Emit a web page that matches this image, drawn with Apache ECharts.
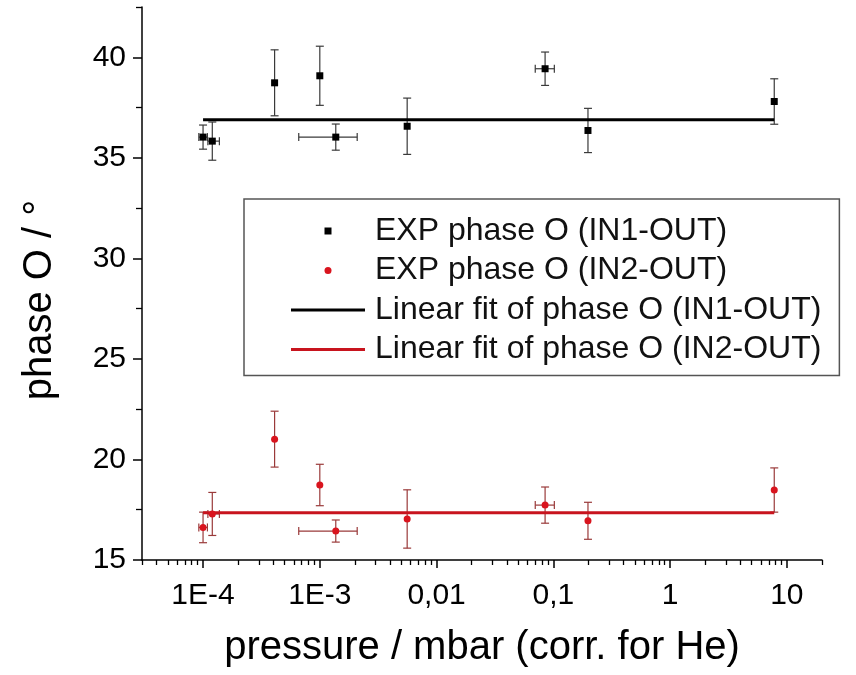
<!DOCTYPE html>
<html>
<head>
<meta charset="utf-8">
<script src="https://cdn.jsdelivr.net/npm/echarts@6/dist/echarts.min.js"></script>
<style>
html,body{margin:0;padding:0;background:#fff;}
#chart{width:856px;height:675px;}
</style>
</head>
<body>
<div id="chart"></div>
<script>
// ---- data ----
const pressure     = [1.0e-4, 1.2e-4, 4.1e-4, 1.0e-3, 1.37e-3, 5.6e-3, 0.085, 0.198, 7.8];
const pressureLow  = [9.2e-5, 1.1e-4, 4.1e-4, 1.0e-3, 6.6e-4, 5.6e-3, 0.070, 0.198, 7.8];
const pressureHigh = [1.09e-4, 1.38e-4, 4.1e-4, 1.0e-3, 2.09e-3, 5.6e-3, 0.102, 0.198, 7.8];
const phaseIN1 = [36.03, 35.83, 38.73, 39.08, 36.03, 36.57, 39.43, 36.36, 37.80];
const errIN1   = [0.60, 0.95, 1.64, 1.47, 0.65, 1.40, 0.83, 1.10, 1.13];
const phaseIN2 = [16.62, 17.29, 21.01, 18.73, 16.44, 17.04, 17.73, 16.95, 18.48];
const errIN2   = [0.76, 1.07, 1.39, 1.03, 0.55, 1.45, 0.90, 0.92, 1.10];
const fitRange = [1.0e-4, 7.8];
const fitIN1 = [36.89, 36.89];
const fitIN2 = [17.35, 17.35];
const seriesNames = ['EXP phase O (IN1-OUT)', 'EXP phase O (IN2-OUT)',
                     'Linear fit of phase O (IN1-OUT)', 'Linear fit of phase O (IN2-OUT)'];
const xMajorTicks = [1e-4, 1e-3, 0.01, 0.1, 1, 10];
const xTickLabels = ['1E-4', '1E-3', '0,01', '0,1', '1', '10'];
const xMinorMultipliers = [2, 3, 4, 5, 6, 7, 8, 9];
const xDecades = [1e-5, 1e-4, 1e-3, 0.01, 0.1, 1, 10];
const yMajorTicks = [15, 20, 25, 30, 35, 40];
const yMinorTicks = [17.5, 22.5, 27.5, 32.5, 37.5, 42.5];
const xMin = 3e-5, xMax = 20, yMin = 15, yMax = 42.5;

// ---- build ----
const xMinorTicks = [];
xDecades.forEach(d => xMinorMultipliers.forEach(k => {
  const v = +(k * d).toPrecision(6);
  if (v >= xMin && v <= xMax) xMinorTicks.push(v);
}));

const FONT = "'Liberation Sans', Arial, sans-serif";
const BLACK = '#000', RED = '#d9141e';

function pts(ys, errs) {
  return pressure.map((p, i) => [p, ys[i], errs[i], pressureLow[i], pressureHigh[i]]);
}
function errorBars(color) {
  return function (params, api) {
    const x = api.value(0), y = api.value(1), e = api.value(2);
    const xl = api.value(3), xh = api.value(4);
    const top = api.coord([x, y + e]);
    const bot = api.coord([x, y - e]);
    const cap = 4;
    const st = {stroke: color, lineWidth: 1.2};
    const ch = [
      {type: 'line', shape: {x1: top[0], y1: top[1], x2: bot[0], y2: bot[1]}, style: st},
      {type: 'line', shape: {x1: top[0] - cap, y1: top[1], x2: top[0] + cap, y2: top[1]}, style: st},
      {type: 'line', shape: {x1: bot[0] - cap, y1: bot[1], x2: bot[0] + cap, y2: bot[1]}, style: st}
    ];
    if (xh > xl) {
      const l = api.coord([xl, y]);
      const r = api.coord([xh, y]);
      ch.push({type: 'line', shape: {x1: l[0], y1: l[1], x2: r[0], y2: r[1]}, style: st});
      ch.push({type: 'line', shape: {x1: l[0], y1: l[1] - cap, x2: l[0], y2: l[1] + cap}, style: st});
      ch.push({type: 'line', shape: {x1: r[0], y1: r[1] - cap, x2: r[0], y2: r[1] + cap}, style: st});
    }
    return {type: 'group', children: ch};
  };
}

const axisLine = {show: true, lineStyle: {color: '#000', width: 1.5}};
const LINE_ICON = 'path://M0 0H74V3H0Z';

const option = {
  backgroundColor: '#fff',
  animation: false,
  textStyle: {fontFamily: FONT},
  grid: {left: 142, right: 34, top: 7, bottom: 115},
  legend: {
    orient: 'vertical',
    left: 244, top: 199,
    itemWidth: 74, itemHeight: 7, itemGap: 7.5,
    padding: [16, 18, 10, 47],
    borderColor: '#555', borderWidth: 1.5, backgroundColor: '#fff',
    textStyle: {fontFamily: FONT, fontSize: 32, color: '#111', padding: [0, 0, 0, 5]},
    data: [
      {name: seriesNames[0], icon: 'path://M0 0H10V10H0Z'},
      {name: seriesNames[1], icon: 'circle'},
      {name: seriesNames[2], icon: LINE_ICON},
      {name: seriesNames[3], icon: LINE_ICON}
    ]
  },
  xAxis: [{
    type: 'log', min: xMin, max: xMax, position: 'bottom',
    name: 'pressure / mbar (corr. for He)', nameLocation: 'middle', nameGap: 68,
    nameTextStyle: {fontFamily: FONT, fontSize: 40, color: '#000'},
    axisLine: axisLine,
    axisTick: {show: true, length: 8, customValues: xMajorTicks, lineStyle: {color: '#000', width: 1.5}},
    axisLabel: {
      customValues: xMajorTicks, margin: 21,
      fontFamily: FONT, fontSize: 30, color: '#000',
      formatter: v => xTickLabels[xMajorTicks.findIndex(t => Math.abs(Math.log10(t) - Math.log10(v)) < 0.01)]
    },
    splitLine: {show: false}, minorTick: {show: false}
  }, {
    type: 'log', min: xMin, max: xMax, position: 'bottom',
    axisLine: {show: false},
    axisTick: {show: true, length: 5, customValues: xMinorTicks, lineStyle: {color: '#000', width: 1.3}},
    axisLabel: {show: false},
    splitLine: {show: false}
  }],
  yAxis: [{
    type: 'value', min: yMin, max: yMax, position: 'left',
    name: 'phase O / °', nameLocation: 'middle', nameGap: 82, nameRotate: 90,
    nameTextStyle: {fontFamily: FONT, fontSize: 40, color: '#000', padding: [0, 33, 0, 0]},
    axisLine: axisLine,
    axisTick: {show: true, length: 9, customValues: yMajorTicks, lineStyle: {color: '#000', width: 1.5}},
    axisLabel: {customValues: yMajorTicks, margin: 16, fontFamily: FONT, fontSize: 30, color: '#000'},
    splitLine: {show: false}
  }, {
    type: 'value', min: yMin, max: yMax, position: 'left',
    axisLine: {show: false},
    axisTick: {show: true, length: 6, customValues: yMinorTicks, lineStyle: {color: '#000', width: 1.3}},
    axisLabel: {show: false},
    splitLine: {show: false}
  }],
  series: [
    {type: 'custom', name: 'errIN1', renderItem: errorBars('#3a3a3a'), data: pts(phaseIN1, errIN1),
     encode: {x: 0, y: 1}, z: 2, silent: true},
    {type: 'custom', name: 'errIN2', renderItem: errorBars('#9a3a3a'), data: pts(phaseIN2, errIN2),
     encode: {x: 0, y: 1}, z: 2, silent: true},
    {type: 'line', name: seriesNames[2], data: fitRange.map((x, i) => [x, fitIN1[i]]),
     symbol: 'none', lineStyle: {color: BLACK, width: 3}, itemStyle: {color: BLACK}, z: 3},
    {type: 'line', name: seriesNames[3], data: fitRange.map((x, i) => [x, fitIN2[i]]),
     symbol: 'none', lineStyle: {color: '#c8141e', width: 3}, itemStyle: {color: '#c8141e'}, z: 3},
    {type: 'scatter', name: seriesNames[0], data: pressure.map((p, i) => [p, phaseIN1[i]]),
     symbol: 'rect', symbolSize: 7, itemStyle: {color: BLACK, opacity: 1}, z: 4},
    {type: 'scatter', name: seriesNames[1], data: pressure.map((p, i) => [p, phaseIN2[i]]),
     symbol: 'circle', symbolSize: 7, itemStyle: {color: RED, opacity: 1}, z: 4}
  ]
};

const chart = echarts.init(document.getElementById('chart'), null, {renderer: 'canvas'});
chart.setOption(option);
</script>
</body>
</html>
